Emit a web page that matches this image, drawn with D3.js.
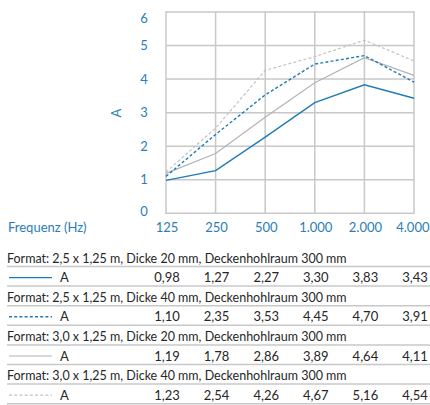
<!DOCTYPE html>
<html><head><meta charset="utf-8">
<script src="https://cdn.jsdelivr.net/npm/d3@7"></script>
<style>
body{margin:0;background:#fff;}
svg{display:block;}
</style></head>
<body><svg id="c" width="430" height="405"></svg>
<script>
const categories = ["125","250","500","1.000","2.000","4.000"];
const yTicks = [0,1,2,3,4,5,6];
const seriesTitles = [
  "Format: 2,5 x 1,25 m, Dicke 20 mm, Deckenhohlraum 300 mm",
  "Format: 2,5 x 1,25 m, Dicke 40 mm, Deckenhohlraum 300 mm",
  "Format: 3,0 x 1,25 m, Dicke 20 mm, Deckenhohlraum 300 mm",
  "Format: 3,0 x 1,25 m, Dicke 40 mm, Deckenhohlraum 300 mm"
];
const seriesNames = ["A","A","A","A"];
const s1 = [0.98,1.27,2.27,3.30,3.83,3.43];
const s2 = [1.10,2.35,3.53,4.45,4.70,3.91];
const s3 = [1.19,1.78,2.86,3.89,4.64,4.11];
const s4 = [1.23,2.54,4.26,4.67,5.16,4.54];
const seriesValues = [s1,s2,s3,s4];
const xTitle = "Frequenz (Hz)";
const yTitle = "A";

const styles = [
  {color:"#1f7bb6", dash:null, w:1.4},
  {color:"#1f7bb6", dash:"3,2.2", w:1.4},
  {color:"#b3b3b3", dash:null, w:1.2},
  {color:"#c2c2c2", dash:"3,2.2", w:1.2}
];
const blue = "#2a7db8";
const grid = "#c8c8c8";
const font = "Lato, 'Open Sans', sans-serif";

const svg = d3.select("#c");
const x = d3.scalePoint().domain(categories).range([166,414]);
const y = d3.scaleLinear().domain([0,6]).range([213.3,12]);

const g = svg.append("g");
g.selectAll(".hg").data(yTicks).join("line")
  .attr("x1",x.range()[0]).attr("x2",x.range()[1])
  .attr("y1",d=>y(d)).attr("y2",d=>y(d))
  .attr("stroke",grid).attr("stroke-width",1.5);
g.selectAll(".vg").data(categories).join("line")
  .attr("x1",d=>x(d)).attr("x2",d=>x(d))
  .attr("y1",y(0)+0.7).attr("y2",y(6)-0.7)
  .attr("stroke",grid).attr("stroke-width",1.5);

g.selectAll(".yl").data(yTicks).join("text")
  .attr("x",144).attr("y",d=>Math.max(18,Math.min(211,y(d))))
  .attr("dy","0.35em").attr("text-anchor","middle")
  .attr("fill",blue).attr("font-family",font).attr("font-size",13)
  .text(d=>d);
const lastCat = categories[categories.length-1];
g.selectAll(".xl").data(categories).join("text")
  .attr("x",d=>d===lastCat?429.5:x(d)+1).attr("y",227).attr("dy","0.35em")
  .attr("text-anchor",d=>d===lastCat?"end":"middle")
  .attr("fill",blue).attr("font-family",font).attr("font-size",13)
  .text(d=>d);
g.append("text").attr("x",8).attr("y",227).attr("dy","0.35em")
  .attr("fill",blue).attr("font-family",font).attr("font-size",13).text(xTitle);
g.append("text").attr("transform","translate(116,113) rotate(-90)")
  .attr("dy","0.35em").attr("text-anchor","middle")
  .attr("fill",blue).attr("font-family",font).attr("font-size",13).text(yTitle);

const line = d3.line().x((d,i)=>x(categories[i])).y(d=>y(d));
seriesValues.slice().reverse().forEach((vals,ri)=>{
  const i = seriesValues.length-1-ri;
  const st = styles[i];
  g.append("path").attr("d",line(vals)).attr("fill","none")
    .attr("stroke",st.color).attr("stroke-width",st.w)
    .attr("stroke-dasharray",st.dash);
});

const fmt = d3.formatLocale({decimal:",",thousands:".",grouping:[3],currency:["","€"]}).format(".2f");
const sepY = i => 266.5 + 19.6*i;
const t = svg.append("g");
for(let k=0;k<8;k++){
  t.append("line").attr("x1",7).attr("x2",430).attr("y1",sepY(k)).attr("y2",sepY(k))
    .attr("stroke",grid).attr("stroke-width",1.5);
}
seriesValues.forEach((vals,k)=>{
  const st = styles[k];
  const title = t.append("text").attr("x",7).attr("y",sepY(2*k)-4)
    .attr("fill","#262626").attr("font-family",font).attr("font-size",12.5).text(seriesTitles[k]);
  const len = title.node().getComputedTextLength();
  title.attr("font-size", 12.5*340/len);
  const ly = sepY(2*k+1)-8.5;
  t.append("line").attr("x1",9).attr("x2",52).attr("y1",ly).attr("y2",ly)
    .attr("stroke",st.color).attr("stroke-width",st.w).attr("stroke-dasharray",st.dash);
  t.append("text").attr("x",60).attr("y",sepY(2*k+1)-4)
    .attr("fill","#262626").attr("font-family",font).attr("font-size",13).text(seriesNames[k]);
  t.selectAll(null).data(vals).join("text")
    .attr("x",(d,i)=>x(categories[i])+1).attr("y",sepY(2*k+1)-4)
    .attr("text-anchor","middle")
    .attr("fill","#262626").attr("font-family",font).attr("font-size",13)
    .text(d=>fmt(d));
});
</script></body></html>
